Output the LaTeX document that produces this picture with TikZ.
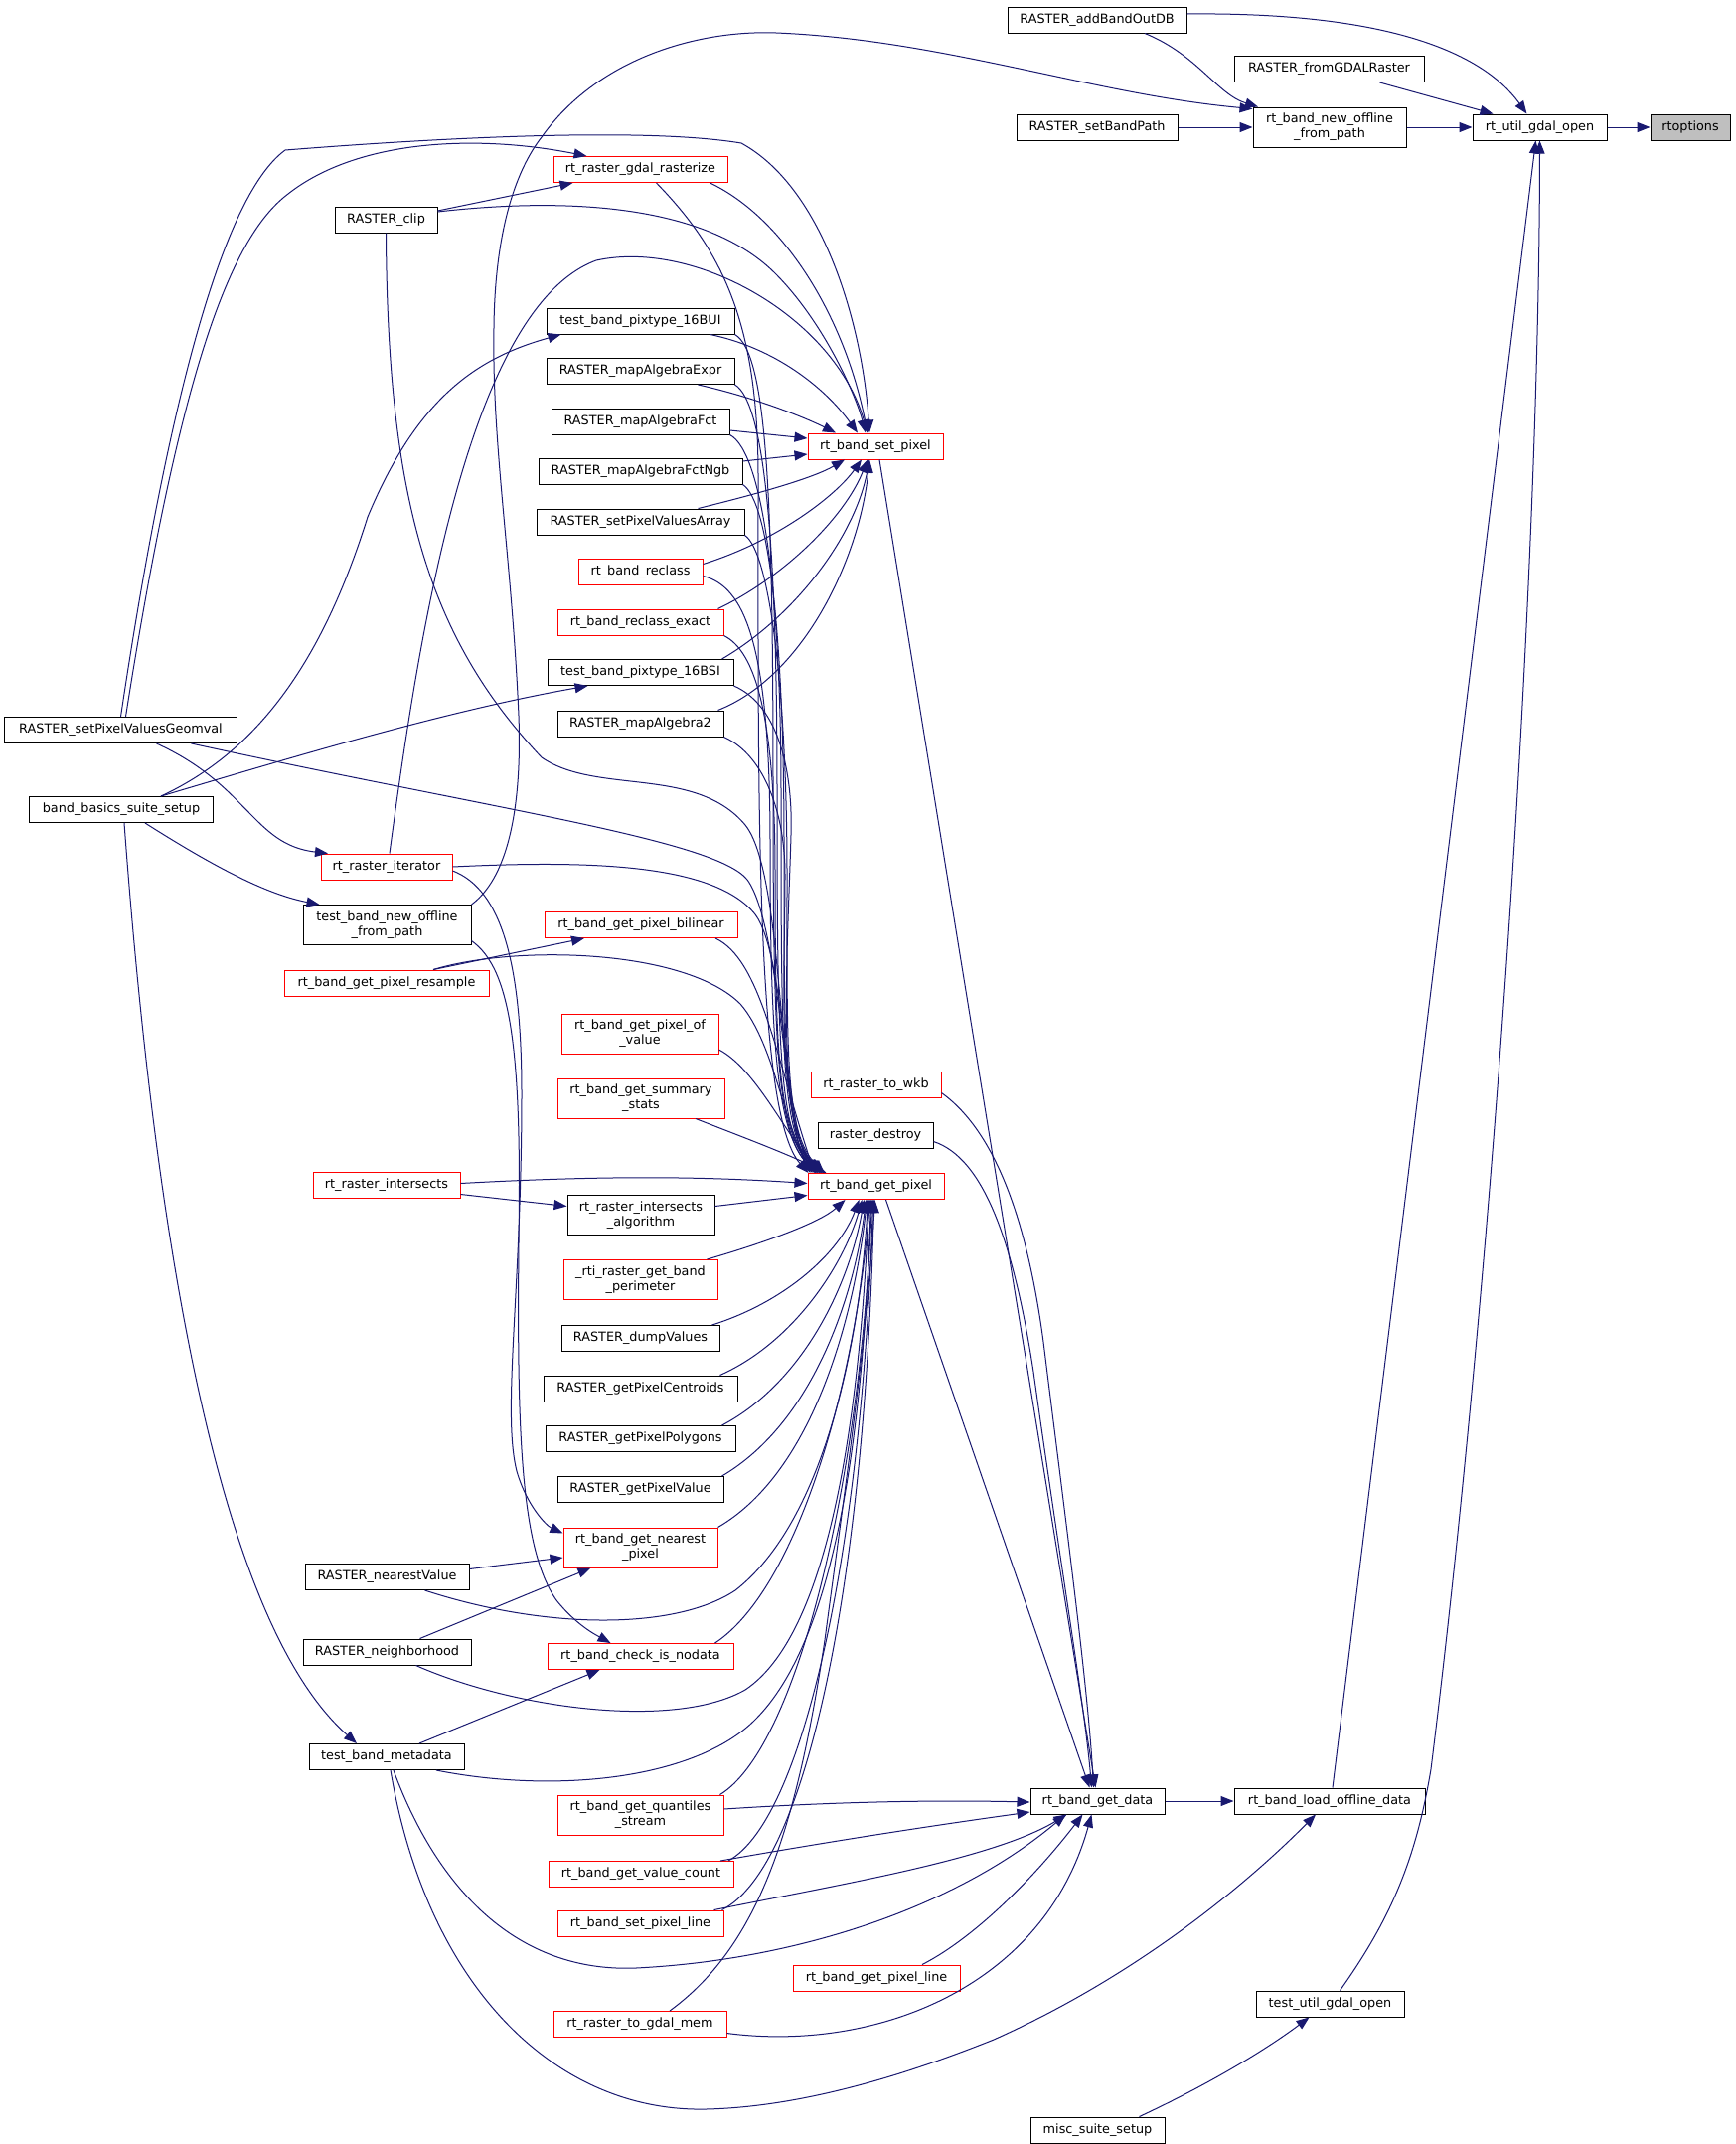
\documentclass[tikz,border=0pt]{standalone}
\usepackage{fontspec}
\setmainfont{DejaVu Sans}
\usetikzlibrary{arrows.meta}
\definecolor{edgeblue}{HTML}{191970}
\definecolor{rootgray}{HTML}{BFBFBF}
\tikzset{
	fnbox/.style={draw=black, fill=white, line width=1bp, inner sep=0pt, minimum height=26bp, align=center, font=\fontsize{12.8bp}{15bp}\selectfont},
	redbox/.style={fnbox, draw=red},
	rootbox/.style={fnbox, fill=rootgray},
	twoline/.style={minimum height=40bp},
	callarrow/.style={draw=edgeblue, line width=1bp, -{Triangle[length=13bp,width=10bp]}},
}
\begin{document}
\begin{tikzpicture}[x=1bp, y=-1bp]
			%%%%% START %%%%%
			\fill[white] (0,0) rectangle (1747,2157);
			\useasboundingbox (0,0) rectangle (1747,2157);
			
			% right part
			\node[rootbox, minimum width=80bp] (rtopt) at (1701,128) {rtoptions};
			\node[fnbox, minimum width=135bp] (utilopen) at (1549.5,128) {rt\_util\_gdal\_open};
			\node[fnbox, minimum width=180bp] (addoutdb) at (1104,20) {RASTER\_addBandOutDB};
			\node[fnbox, minimum width=191bp] (fromgdal) at (1337.5,69.5) {RASTER\_fromGDALRaster};
			\node[fnbox, minimum width=162bp] (setbandpath) at (1104,128) {RASTER\_setBandPath};
			\node[fnbox, twoline, minimum width=154bp] (newoffline) at (1338,128) {rt\_band\_new\_offline\\\_from\_path};
			\node[fnbox, minimum width=135bp] (getdata) at (1104.5,1812) {rt\_band\_get\_data};
			\node[fnbox, minimum width=192bp] (loadoff) at (1338,1812) {rt\_band\_load\_offline\_data};
			\node[fnbox, minimum width=149bp] (testutil) at (1338.5,2016) {test\_util\_gdal\_open};
			\node[fnbox, minimum width=135bp] (miscsetup) at (1104.5,2143) {misc\_suite\_setup};
			
			% column of set_pixel / get_pixel
			\node[redbox, minimum width=136bp] (setpix) at (881,449) {rt\_band\_set\_pixel};
			\node[redbox, minimum width=131bp] (towkb) at (881.5,1091.5) {rt\_raster\_to\_wkb};
			\node[fnbox, minimum width=116bp] (rdestroy) at (881,1142.5) {raster\_destroy};
			\node[redbox, minimum width=137bp] (getpix) at (881.5,1193.5) {rt\_band\_get\_pixel};
			\node[redbox, minimum width=168bp] (getpixline) at (882,1990) {rt\_band\_get\_pixel\_line};
			
			% middle column
			\node[redbox, minimum width=175bp] (rasterize) at (644.5,170.5) {rt\_raster\_gdal\_rasterize};
			\node[fnbox, minimum width=189bp] (pix16bui) at (644.5,323) {test\_band\_pixtype\_16BUI};
			\node[fnbox, minimum width=189bp] (mapexpr) at (644.5,373.5) {RASTER\_mapAlgebraExpr};
			\node[fnbox, minimum width=179bp] (mapfct) at (644.5,424) {RASTER\_mapAlgebraFct};
			\node[fnbox, minimum width=205bp] (mapfctngb) at (644.5,474) {RASTER\_mapAlgebraFctNgb};
			\node[fnbox, minimum width=209bp] (setpixarr) at (644.5,525) {RASTER\_setPixelValuesArray};
			\node[redbox, minimum width=125bp] (reclass) at (644.5,575.5) {rt\_band\_reclass};
			\node[redbox, minimum width=167bp] (reclassx) at (644.5,626) {rt\_band\_reclass\_exact};
			\node[fnbox, minimum width=187bp] (pix16bsi) at (644.5,676.5) {test\_band\_pixtype\_16BSI};
			\node[fnbox, minimum width=167bp] (mapalg2) at (644.5,728) {RASTER\_mapAlgebra2};
			\node[redbox, minimum width=194bp] (bilinear) at (645,930.5) {rt\_band\_get\_pixel\_bilinear};
			\node[redbox, twoline, minimum width=158bp] (ofvalue) at (644,1040) {rt\_band\_get\_pixel\_of\\\_value};
			\node[redbox, twoline, minimum width=168bp] (sumstats) at (645,1105) {rt\_band\_get\_summary\\\_stats};
			\node[fnbox, twoline, minimum width=148bp] (intalgo) at (645,1222.5) {rt\_raster\_intersects\\\_algorithm};
			\node[redbox, twoline, minimum width=155bp] (perimeter) at (644.5,1287.5) {\_rti\_raster\_get\_band\\\_perimeter};
			\node[fnbox, minimum width=159bp] (dumpvals) at (644.5,1346.5) {RASTER\_dumpValues};
			\node[fnbox, minimum width=195bp] (centroids) at (644.5,1397) {RASTER\_getPixelCentroids};
			\node[fnbox, minimum width=191bp] (polygons) at (644.5,1447.5) {RASTER\_getPixelPolygons};
			\node[fnbox, minimum width=167bp] (getpixval) at (644.5,1498.5) {RASTER\_getPixelValue};
			\node[redbox, twoline, minimum width=155bp] (nearest) at (644.5,1557) {rt\_band\_get\_nearest\\\_pixel};
			\node[redbox, minimum width=187bp] (nodata) at (644.5,1666.5) {rt\_band\_check\_is\_nodata};
			\node[redbox, twoline, minimum width=167bp] (quantiles) at (644.5,1826) {rt\_band\_get\_quantiles\\\_stream};
			\node[redbox, minimum width=186bp] (valcount) at (645,1885.5) {rt\_band\_get\_value\_count};
			\node[redbox, minimum width=167bp] (setpixline) at (644.5,1935) {rt\_band\_set\_pixel\_line};
			\node[redbox, minimum width=174bp] (togdalmem) at (644,2036.5) {rt\_raster\_to\_gdal\_mem};
			
			% left columns
			\node[fnbox, minimum width=103bp] (clip) at (388.5,221) {RASTER\_clip};
			\node[fnbox, minimum width=233bp] (geomval) at (121.5,734.5) {RASTER\_setPixelValuesGeomval};
			\node[fnbox, minimum width=184bp] (basics) at (122,814.5) {band\_basics\_suite\_setup};
			\node[redbox, minimum width=132bp] (iterator) at (389,872) {rt\_raster\_iterator};
			\node[fnbox, twoline, minimum width=169bp] (testnewoff) at (389.5,930.5) {test\_band\_new\_offline\\\_from\_path};
			\node[redbox, minimum width=206bp] (resample) at (389,989) {rt\_band\_get\_pixel\_resample};
			\node[redbox, minimum width=148bp] (intersects) at (389,1192.5) {rt\_raster\_intersects};
			\node[fnbox, minimum width=165bp] (nearestval) at (389.5,1586.5) {RASTER\_nearestValue};
			\node[fnbox, minimum width=169bp] (neighbor) at (389.5,1662) {RASTER\_neighborhood};
			\node[fnbox, minimum width=156bp] (metadata) at (389,1767.5) {test\_band\_metadata};
			
			% calls at the top
			\draw[callarrow] (utilopen.east) -- (rtopt.west);
			\draw[callarrow] (newoffline.east) -- (utilopen.west);
			\draw[callarrow] (setbandpath.east) -- (newoffline.west);
			\draw[callarrow] ([xshift=51bp]fromgdal.south) -- ([xshift=-47bp]utilopen.north);
			\draw[callarrow] ([yshift=6bp]addoutdb.east) .. controls (1390,12) and (1490,50) .. ([xshift=-13bp]utilopen.north);
			\draw[callarrow] ([xshift=48bp]addoutdb.south) .. controls (1205,55) and (1225,95) .. ([xshift=-72bp]newoffline.north);
			\draw[callarrow] (testnewoff.north east) .. controls (515,880) and (525,800) .. (522,720) .. controls (515,560) and (495,450) .. (497,330) .. controls (498,230) and (520,170) .. (545,138) .. controls (600,60) and (700,30) .. (781,33) .. controls (950,40) and (1100,95) .. ([yshift=-2bp]newoffline.north west);
			\draw[callarrow] ([xshift=3bp]loadoff.north) -- ([xshift=-4bp]utilopen.south);
			\draw[callarrow] ([xshift=10bp]testutil.north) .. controls (1400,1930) and (1425,1870) .. (1440,1780) .. controls (1500,1300) and (1549,600) .. (utilopen.south);
			\draw[callarrow] (getdata.east) -- (loadoff.west);
			\draw[callarrow] ([xshift=42bp]miscsetup.north) .. controls (1210,2100) and (1270,2065) .. ([xshift=-21bp]testutil.south);
			
			% calls from the left columns
			\draw[callarrow] ([xshift=4bp]metadata.south) .. controls (430,2000) and (560,2125) .. (710,2122) .. controls (800,2120) and (900,2092) .. (1000,2052) .. controls (1150,1985) and (1260,1890) .. ([xshift=-14bp]loadoff.south);
			\draw[callarrow] ([xshift=7bp]metadata.south) .. controls (440,1900) and (520,1985) .. (640,1980) .. controls (800,1972) and (960,1920) .. ([xshift=-32bp]getdata.south);
			\draw[callarrow] ([xshift=3bp]basics.south) .. controls (160,1300) and (230,1640) .. ([xshift=-30bp]metadata.north);
			\draw[callarrow] ([xshift=40bp]basics.north) .. controls (250,760) and (320,680) .. (370,520) .. controls (420,400) and (480,360) .. ([xshift=-80bp]pix16bui.south);
			\draw[callarrow] ([xshift=40bp]basics.north) .. controls (300,760) and (450,715) .. ([xshift=-53bp]pix16bsi.south);
			\draw[callarrow] ([xshift=24bp]basics.south) .. controls (220,875) and (270,900) .. ([xshift=-68bp]testnewoff.north);
			\draw[callarrow] ([xshift=36bp]geomval.south) .. controls (250,790) and (255,850) .. ([xshift=-59bp]iterator.north);
			\draw[callarrow] ([xshift=71bp]geomval.south) .. controls (500,815) and (720,845) .. (752,885) .. controls (785,930) and (790,1130) .. ([xshift=-66bp]getpix.north);
			\draw[callarrow] ([xshift=5bp]geomval.north) .. controls (180,380) and (230,240) .. (290,195) .. controls (360,140) and (480,135) .. ([xshift=-54bp]rasterize.north);
			\draw[callarrow] (geomval.north) .. controls (165,430) and (220,200) .. (287,151) .. controls (450,138) and (650,128) .. (746,144) .. controls (830,190) and (868,330) .. ([xshift=-6bp]setpix.north);
			\draw[callarrow] ([yshift=9bp]clip.east) -- ([xshift=-68bp]rasterize.south);
			\draw[callarrow] ([yshift=8bp]clip.east) .. controls (600,195) and (720,215) .. (780,275) .. controls (830,325) and (862,400) .. ([xshift=-10bp]setpix.north);
			\draw[callarrow] (clip.south) .. controls (390,500) and (430,640) .. (545,762) .. controls (600,800) and (700,770) .. (750,830) .. controls (790,880) and (782,1120) .. ([xshift=-64bp]getpix.north);
			\draw[callarrow] ([xshift=70bp]rasterize.south) .. controls (790,220) and (850,320) .. ([xshift=-8bp]setpix.north);
			\draw[callarrow] ([xshift=16bp]rasterize.south) .. controls (730,255) and (763,330) .. (763,480) .. controls (763,800) and (760,1120) .. ([xshift=-68bp]getpix.north);
			\draw[callarrow] ([xshift=3bp]iterator.north) .. controls (420,650) and (470,310) .. (600,262) .. controls (700,240) and (840,320) .. ([xshift=-8bp]setpix.north);
			\draw[callarrow] (iterator.east) .. controls (600,865) and (720,870) .. (760,920) .. controls (790,960) and (790,1130) .. ([xshift=-62bp]getpix.north);
			\draw[callarrow] ([yshift=-4bp]iterator.east) .. controls (505,895) and (525,970) .. (525,1100) .. controls (525,1300) and (505,1420) .. (520,1480) .. controls (530,1515) and (550,1535) .. ([yshift=-6bp]nearest.north west);
			\draw[callarrow] ([yshift=-16bp]testnewoff.east) .. controls (515,975) and (525,1060) .. (522,1250) .. controls (520,1450) and (525,1560) .. (560,1610) .. controls (580,1635) and (600,1645) .. ([xshift=-30bp]nodata.north);
			
			% into rt_band_set_pixel and rt_band_get_pixel
			\draw[callarrow] ([xshift=70bp]pix16bui.south) .. controls (780,350) and (830,390) .. ([xshift=-18bp]setpix.north);
			\draw[callarrow] (pix16bui.south east) .. controls (772,355) and (778,500) .. (778,800) .. controls (778,1050) and (782,1140) .. ([xshift=-60bp]getpix.north);
			\draw[callarrow] ([xshift=58bp]mapexpr.south) .. controls (760,400) and (810,420) .. ([xshift=-40bp]setpix.north);
			\draw[callarrow] (mapexpr.south east) .. controls (770,405) and (782,550) .. (782,800) .. controls (782,1050) and (784,1140) .. ([xshift=-58bp]getpix.north);
			\draw[callarrow] ([yshift=-9bp]mapfct.east) -- ([yshift=8bp]setpix.west);
			\draw[callarrow] (mapfct.south east) .. controls (768,455) and (786,600) .. (786,800) .. controls (786,1050) and (786,1140) .. ([xshift=-56bp]getpix.north);
			\draw[callarrow] ([yshift=10bp]mapfctngb.east) -- ([yshift=-8bp]setpix.west);
			\draw[callarrow] (mapfctngb.south east) .. controls (775,505) and (789,650) .. (789,850) .. controls (789,1050) and (788,1140) .. ([xshift=-54bp]getpix.north);
			\draw[callarrow] ([xshift=58bp]setpixarr.north) .. controls (770,495) and (820,480) .. ([xshift=-31bp]setpix.south);
			\draw[callarrow] (setpixarr.south east) .. controls (775,555) and (792,700) .. (792,880) .. controls (792,1060) and (790,1140) .. ([xshift=-52bp]getpix.north);
			\draw[callarrow] ([yshift=8bp]reclass.east) .. controls (780,545) and (840,500) .. ([xshift=-14bp]setpix.south);
			\draw[callarrow] ([yshift=-4bp]reclass.east) .. controls (750,590) and (775,650) .. (775,850) .. controls (775,1050) and (782,1140) .. ([xshift=-60bp]getpix.north);
			\draw[callarrow] ([xshift=78bp]reclassx.north) .. controls (790,580) and (850,520) .. ([xshift=-8bp]setpix.south);
			\draw[callarrow] (reclassx.south east) .. controls (760,655) and (780,720) .. (780,880) .. controls (780,1060) and (784,1140) .. ([xshift=-58bp]getpix.north);
			\draw[callarrow] ([xshift=82bp]pix16bsi.north) .. controls (800,620) and (860,540) .. ([xshift=-6bp]setpix.south);
			\draw[callarrow] (pix16bsi.south east) .. controls (785,710) and (798,780) .. (796,840) .. controls (793,950) and (780,1130) .. ([xshift=-56bp]getpix.north);
			\draw[callarrow] ([xshift=78bp]mapalg2.north) .. controls (810,680) and (865,560) .. ([xshift=-6bp]setpix.south);
			\draw[callarrow] (mapalg2.south east) .. controls (770,760) and (790,820) .. (790,880) .. controls (790,980) and (780,1130) .. ([xshift=-54bp]getpix.north);
			\draw[callarrow] ([xshift=75bp]bilinear.south) .. controls (765,965) and (780,1060) .. ([xshift=-62bp]getpix.north);
			\draw[callarrow] ([xshift=47bp]resample.north) -- ([xshift=-57bp]bilinear.south);
			\draw[callarrow] ([xshift=47bp]resample.north) .. controls (520,950) and (690,955) .. (745,1010) .. controls (780,1050) and (790,1140) .. ([xshift=-60bp]getpix.north);
			\draw[callarrow] ([yshift=-16bp]ofvalue.east) .. controls (760,1075) and (790,1140) .. ([xshift=-56bp]getpix.north);
			\draw[callarrow] ([xshift=55bp]sumstats.south) .. controls (750,1145) and (790,1160) .. ([xshift=-50bp]getpix.north);
			\draw[callarrow] ([yshift=2bp]intersects.east) .. controls (600,1183) and (700,1183) .. ([yshift=3bp]getpix.west);
			\draw[callarrow] ([yshift=-9bp]intersects.east) -- ([yshift=9bp]intalgo.west);
			\draw[callarrow] ([yshift=9bp]intalgo.east) -- ([yshift=-9bp]getpix.west);
			\draw[callarrow] ([xshift=67bp]perimeter.north) .. controls (770,1250) and (825,1230) .. ([xshift=-31bp]getpix.south);
			\draw[callarrow] ([xshift=72bp]dumpvals.north) .. controls (790,1310) and (845,1260) .. ([xshift=-17bp]getpix.south);
			\draw[callarrow] ([xshift=80bp]centroids.north) .. controls (800,1350) and (850,1270) .. ([xshift=-14bp]getpix.south);
			\draw[callarrow] ([xshift=82bp]polygons.north) .. controls (810,1390) and (855,1290) .. ([xshift=-12bp]getpix.south);
			\draw[callarrow] ([xshift=82bp]getpixval.north) .. controls (820,1430) and (860,1300) .. ([xshift=-10bp]getpix.south);
			\draw[callarrow] ([xshift=78bp]nearest.north) .. controls (820,1480) and (860,1320) .. ([xshift=-9bp]getpix.south);
			\draw[callarrow] ([yshift=8bp]nearestval.east) -- ([yshift=-10bp]nearest.west);
			\draw[callarrow] ([xshift=38bp]nearestval.south) .. controls (550,1640) and (680,1640) .. (740,1600) .. controls (830,1530) and (865,1350) .. ([xshift=-8bp]getpix.south);
			\draw[callarrow] ([xshift=33bp]neighbor.north) -- ([xshift=-50bp]nearest.south);
			\draw[callarrow] ([xshift=29bp]neighbor.south) .. controls (520,1720) and (680,1740) .. (750,1700) .. controls (840,1640) and (866,1400) .. ([xshift=-7bp]getpix.south);
			\draw[callarrow] ([xshift=75bp]nodata.north) .. controls (800,1600) and (860,1400) .. ([xshift=-6bp]getpix.south);
			\draw[callarrow] ([xshift=33bp]metadata.north) -- ([xshift=-41bp]nodata.south);
			\draw[callarrow] ([xshift=50bp]metadata.south) .. controls (560,1805) and (700,1790) .. (760,1730) .. controls (840,1650) and (868,1450) .. ([xshift=-5bp]getpix.south);
			\draw[callarrow] ([xshift=80bp]quantiles.north) .. controls (800,1760) and (865,1500) .. ([xshift=-4bp]getpix.south);
			\draw[callarrow] ([xshift=88bp]valcount.north) .. controls (810,1830) and (868,1550) .. ([xshift=-3bp]getpix.south);
			\draw[callarrow] ([xshift=82bp]setpixline.north) .. controls (810,1880) and (870,1600) .. ([xshift=-2bp]getpix.south);
			\draw[callarrow] ([xshift=30bp]togdalmem.north) .. controls (760,1960) and (800,1850) .. (830,1650) .. controls (850,1500) and (872,1350) .. ([xshift=-1bp]getpix.south);
			
			% into rt_band_get_data
			\draw[callarrow] ([yshift=6bp]quantiles.east) .. controls (850,1812) and (950,1811) .. ([yshift=-1bp]getdata.west);
			\draw[callarrow] ([xshift=80bp]valcount.north) .. controls (850,1850) and (950,1835) .. ([yshift=-11bp]getdata.west);
			\draw[callarrow] ([xshift=74bp]setpixline.north) .. controls (850,1895) and (1000,1870) .. ([xshift=-31bp]getdata.south);
			\draw[callarrow] ([xshift=46bp]getpixline.north) .. controls (980,1950) and (1040,1890) .. ([xshift=-15bp]getdata.south);
			\draw[callarrow] ([yshift=-9bp]togdalmem.east) .. controls (880,2065) and (1050,2000) .. ([xshift=-6bp]getdata.south);
			\draw[callarrow] ([xshift=10bp]getpix.south) -- ([xshift=-8bp]getdata.north);
			\draw[callarrow] ([xshift=4bp]setpix.south) -- ([xshift=-2bp]getdata.north);
			\draw[callarrow] ([yshift=-8bp]towkb.east) .. controls (990,1130) and (1030,1200) .. (1050,1350) .. controls (1075,1550) and (1095,1700) .. ([xshift=-4bp]getdata.north);
			\draw[callarrow] ([yshift=-6bp]rdestroy.east) .. controls (990,1165) and (1020,1250) .. (1040,1380) .. controls (1068,1580) and (1092,1720) .. ([xshift=-6bp]getdata.north);
			
			%%%%% END %%%%%
\end{tikzpicture}
\end{document}
